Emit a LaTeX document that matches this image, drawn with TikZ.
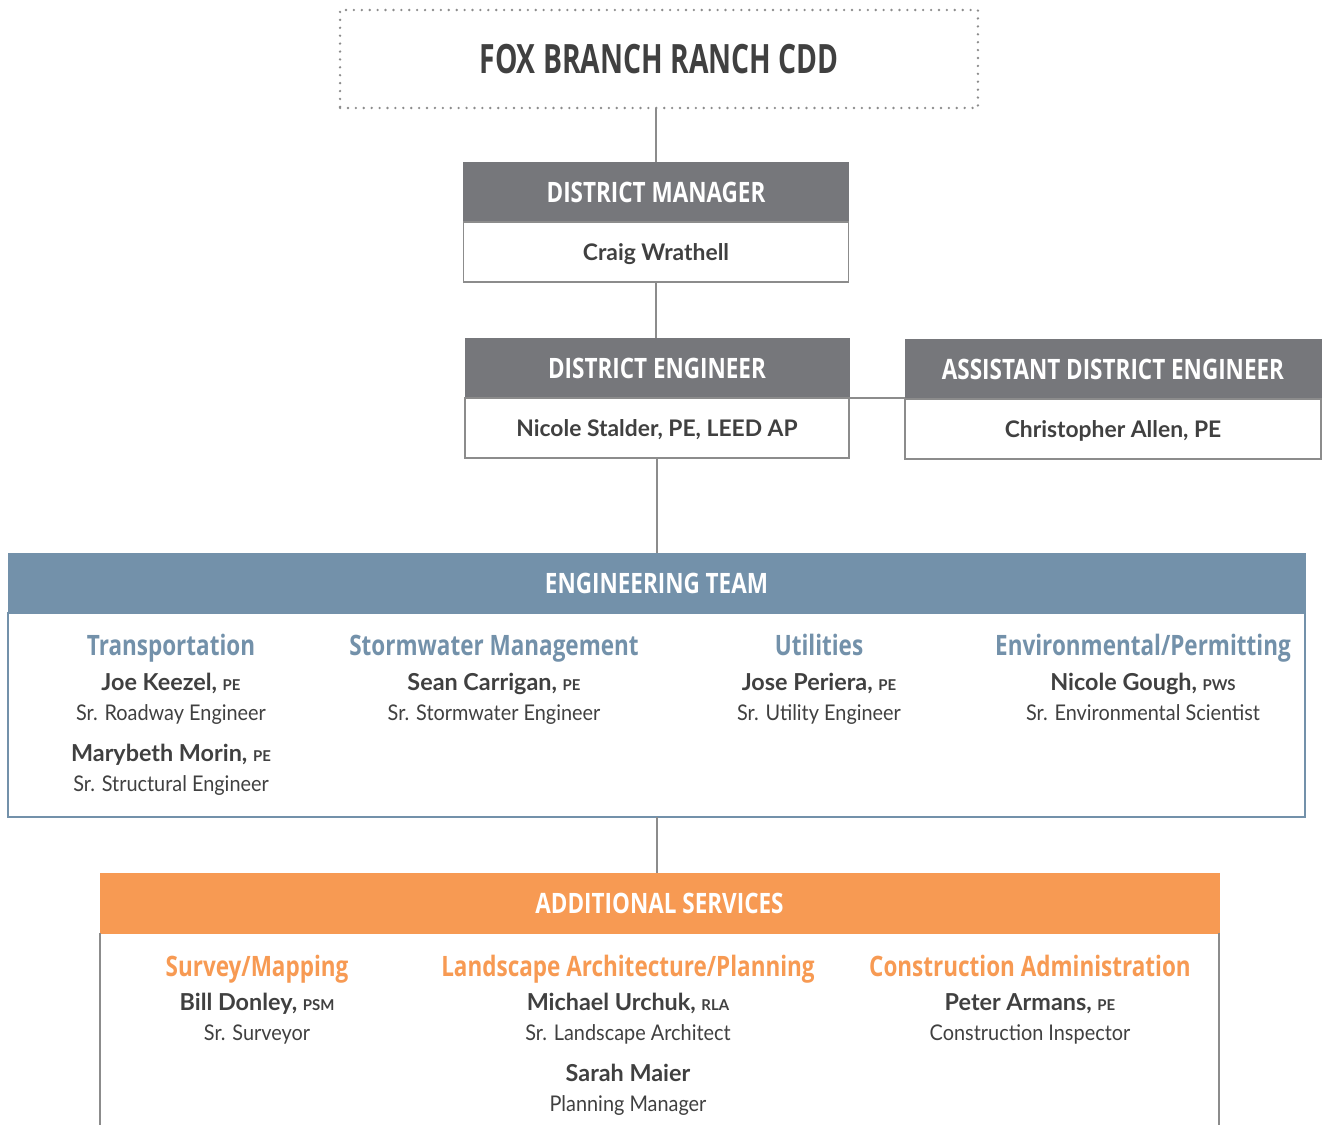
\documentclass[tikz,border=0pt]{standalone}
\usepackage{fontspec}
\setmainfont{Lato}
\newfontfamily\condfont[FakeStretch=0.8]{Open Sans}
\newfontfamily\titlefont[FakeStretch=0.7]{Open Sans}
\newfontfamily\jobfont[FakeStretch=0.92]{Lato}
\usetikzlibrary{positioning}
\definecolor{hdrgray}{HTML}{76777B}
\definecolor{inkgray}{HTML}{404040}
\definecolor{linegray}{HTML}{8C8C8C}
\definecolor{engblue}{HTML}{7391AA}
\definecolor{svcorange}{HTML}{F79A53}
\newcommand{\cred}[1]{{\fontsize{8.5}{8.5}\selectfont #1}}
\tikzset{
	hdr/.style={rectangle, minimum height=1.2cm, text=white, fill=#1, draw=#1,
			font=\condfont\bfseries\fontsize{16}{16}\selectfont},
	namebox/.style={rectangle, minimum height=1.2cm, draw=linegray, line width=0.8pt,
			text=inkgray, text depth=0pt, font=\bfseries\fontsize{13}{13}\selectfont},
	link/.style={draw=linegray, line width=0.8pt},
	grp/.style={anchor=base, text=#1, font=\condfont\bfseries\fontsize{16}{16}\selectfont},
	who/.style={anchor=base, text=inkgray, font=\bfseries\fontsize{13.3}{13.3}\selectfont},
	job/.style={anchor=base, text=inkgray, font=\jobfont\fontsize{12.3}{12.3}\selectfont}
}

\begin{document}
\begin{tikzpicture}[x=0.02cm, y=-0.02cm, every node/.style={outer sep=0pt, inner sep=0pt}]
	\useasboundingbox (0,0) rectangle (1322,1125);

	% district
	\node[draw=linegray, line width=1.5pt, dash pattern=on 0pt off 4.5pt, line cap=round,
		minimum width=12.76cm, minimum height=1.96cm, text=inkgray,
		font=\titlefont\bfseries\fontsize{23}{23}\selectfont] (fox) at (659,59) {FOX BRANCH RANCH CDD};

	% manager and engineers
	\node[hdr=hdrgray, minimum width=7.7cm] (dm) at (656,192) {DISTRICT MANAGER};
	\node[namebox, minimum width=7.7cm, below=0pt of dm] (dmname) {Craig Wrathell};
	\node[hdr=hdrgray, minimum width=7.68cm] (de) at (657,368) {DISTRICT ENGINEER};
	\node[namebox, minimum width=7.68cm, below=0pt of de] (dename) {Nicole Stalder, PE, LEED AP};
	\node[hdr=hdrgray, minimum width=8.32cm] (ade) at (1113,369) {ASSISTANT DISTRICT ENGINEER};
	\node[namebox, minimum width=8.32cm, below=0pt of ade] (adename) {Christopher Allen, PE};

	% engineering team
	\node[hdr=engblue, minimum width=25.94cm] (eng) at (656.5,583) {ENGINEERING TEAM};
	\node[rectangle, draw=engblue, line width=0.8pt, minimum width=25.94cm, minimum height=4.08cm,
		below=0pt of eng] (engbody) {};

	\node[grp=engblue] (trans) at (171,655) {Transportation};
	\node[who] (keezel) at (171,690) {Joe Keezel, \cred{PE}};
	\node[job] (keezeljob) at (171,720) {Sr. Roadway Engineer};
	\node[who] (morin) at (171,761) {Marybeth Morin, \cred{PE}};
	\node[job] (morinjob) at (171,791) {Sr. Structural Engineer};

	\node[grp=engblue] (storm) at (494,655) {Stormwater Management};
	\node[who] (carrigan) at (494,690) {Sean Carrigan, \cred{PE}};
	\node[job] (carriganjob) at (494,720) {Sr. Stormwater Engineer};

	\node[grp=engblue] (util) at (819,655) {Utilities};
	\node[who] (periera) at (819,690) {Jose Periera, \cred{PE}};
	\node[job] (pierierajob) at (819,720) {Sr. Utility Engineer};

	\node[grp=engblue] (env) at (1143,655) {Environmental/Permitting};
	\node[who] (gough) at (1143,690) {Nicole Gough, \cred{PWS}};
	\node[job] (goughjob) at (1143,720) {Sr. Environmental Scientist};

	% additional services
	\node[hdr=svcorange, minimum width=22.38cm] (svc) at (659.5,903) {ADDITIONAL SERVICES};
	\coordinate (floor) at (659.5,1125);

	\node[grp=svcorange] (survey) at (257,976) {Survey/Mapping};
	\node[who] (donley) at (257,1010) {Bill Donley, \cred{PSM}};
	\node[job] (donleyjob) at (257,1040) {Sr. Surveyor};

	\node[grp=svcorange] (land) at (628,976) {Landscape Architecture/Planning};
	\node[who] (urchuk) at (628,1010) {Michael Urchuk, \cred{RLA}};
	\node[job] (urchukjob) at (628,1040) {Sr. Landscape Architect};
	\node[who] (maier) at (628,1081) {Sarah Maier};
	\node[job] (maierjob) at (628,1111) {Planning Manager};

	\node[grp=svcorange] (cons) at (1030,976) {Construction Administration};
	\node[who] (armans) at (1030,1010) {Peter Armans, \cred{PE}};
	\node[job] (armansjob) at (1030,1040) {Construction Inspector};

	% connectors
	\draw[link] (fox.south -| dm.north) -- (dm.north);
	\draw[link] (dmname.south) -- (dmname.south |- de.north);
	\draw[link] (dename.north east) -- (dename.north east -| adename.west);
	\draw[link] (dename.south) -- (dename.south |- eng.north);
	\draw[link] (engbody.south -| dename.south) -- (dename.south |- svc.north);
	\draw[link] (svc.south west) -- (svc.south west |- floor);
	\draw[link] (svc.south east) -- (svc.south east |- floor);
\end{tikzpicture}
\end{document}
